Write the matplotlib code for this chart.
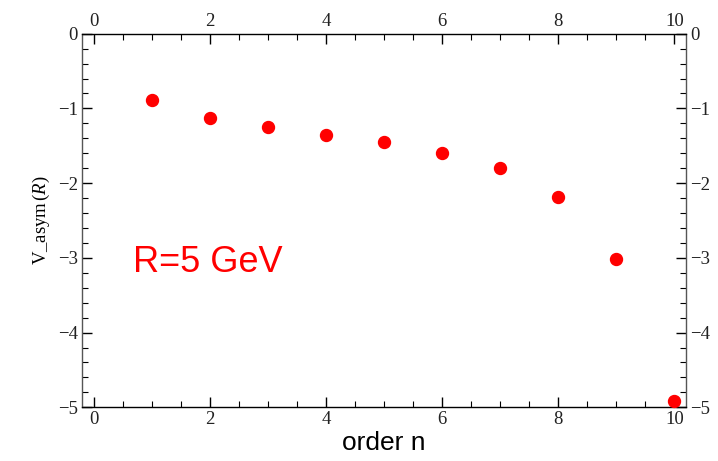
import numpy as np
import matplotlib
matplotlib.use("Agg")
import matplotlib.pyplot as plt
from matplotlib.ticker import MultipleLocator

## datos
order_n = [1, 2, 3, 4, 5, 6, 7, 8, 9, 10]
v_asym = [-0.89, -1.13, -1.25, -1.36, -1.45, -1.59, -1.80, -2.19, -3.01, -4.91]

x_ticks = [0, 2, 4, 6, 8, 10]
y_ticks = [0, -1, -2, -3, -4, -5]

plt.rcParams['font.family'] = 'Liberation Serif'
plt.rcParams['axes.unicode_minus'] = True
plt.rcParams['mathtext.fontset'] = 'custom'
plt.rcParams['mathtext.rm'] = 'Liberation Serif'
plt.rcParams['mathtext.it'] = 'Liberation Serif:italic'

fig = plt.figure(figsize=(7.18, 4.61), dpi=100)
ax = fig.add_axes([82/718, 1 - 407.3/461, (686-82)/718, (407.3-33.7)/461])

ax.plot(order_n, v_asym, 'o', color='red', markersize=8.6, clip_on=False, zorder=3)

ax.set_xlim(-0.2, 10.2)
ax.set_ylim(-5, 0)

## ticks en los cuatro lados
ax.set_xticks(x_ticks)
ax.set_yticks(y_ticks)
ax.xaxis.set_minor_locator(MultipleLocator(0.5))
ax.yaxis.set_minor_locator(MultipleLocator(0.2))
ax.tick_params(which='both', direction='in', top=True, right=True,
               labeltop=True, labelright=True, labelsize=13.5, pad=3,
               labelcolor='#222222')
ax.tick_params(which='major', length=7, width=1)
ax.tick_params(which='minor', length=4, width=0.8)
for side in ['left', 'right']:
    ax.spines[side].set_color('#555555')
for side in ['top', 'bottom']:
    ax.spines[side].set_color('black')
for sp in ax.spines.values():
    sp.set_linewidth(1.0)

ax.set_xlabel('order n', family='Liberation Sans', fontsize=19, labelpad=2)
ax.set_ylabel(r'V_asym$\,(\mathit{R})$', fontsize=13.5, labelpad=4)

ax.text(0.67, -3.19, 'R=5 GeV', color='red', family='Liberation Sans', fontsize=26)

fig.savefig('out.png', dpi=100)
